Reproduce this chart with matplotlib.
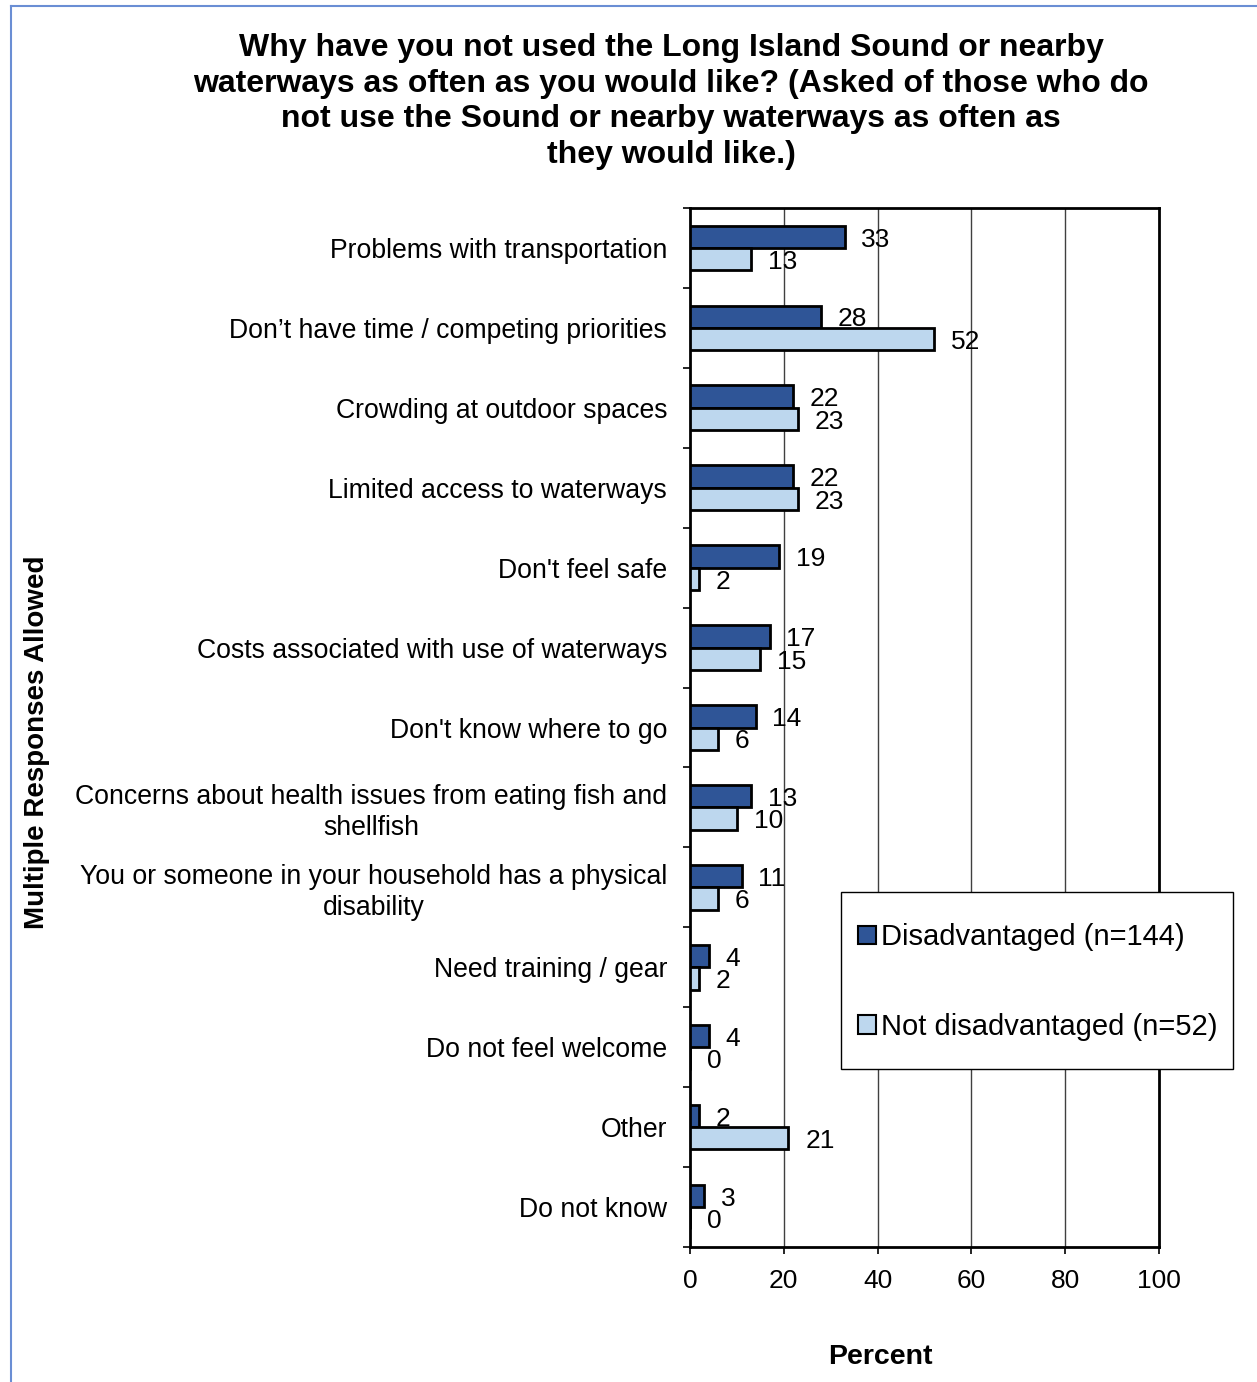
import matplotlib
matplotlib.use("Agg")
import matplotlib.pyplot as plt
from matplotlib.lines import Line2D
from matplotlib.patches import Patch, Rectangle
import numpy as np

plt.rcParams['font.family'] = ['Liberation Sans', 'DejaVu Sans']

categories = [
    "Problems with transportation",
    "Don’t have time / competing priorities",
    "Crowding at outdoor spaces",
    "Limited access to waterways",
    "Don't feel safe",
    "Costs associated with use of waterways",
    "Don't know where to go",
    "Concerns about health issues from eating fish and\nshellfish",
    "You or someone in your household has a physical\ndisability",
    "Need training / gear",
    "Do not feel welcome",
    "Other",
    "Do not know",
]
disadvantaged = [33, 28, 22, 22, 19, 17, 14, 13, 11, 4, 4, 2, 3]
not_disadvantaged = [13, 52, 23, 23, 2, 15, 6, 10, 6, 2, 0, 21, 0]
series_labels = ["Disadvantaged (n=144)", "Not disadvantaged (n=52)"]
x_ticks = [0, 20, 40, 60, 80, 100]

title = ("Why have you not used the Long Island Sound or nearby\n"
         "waterways as often as you would like? (Asked of those who do\n"
         "not use the Sound or nearby waterways as often as\n"
         "they would like.)")

dark = "#2F5597"
light = "#BDD7EE"

W, H = 1257, 1382
fig = plt.figure(figsize=(W / 100, H / 100), dpi=100)
ax = fig.add_axes([690 / W, 1 - 1247 / H, (1159 - 690) / W, (1247 - 208) / H])

n = len(categories)
pos = np.arange(n)
bh = 0.28
ax.barh(pos - bh / 2, disadvantaged, height=bh, color=dark, edgecolor="black", linewidth=2, zorder=3)
ax.barh(pos + bh / 2, not_disadvantaged, height=bh, color=light, edgecolor="black", linewidth=2, zorder=3)

for i in range(n):
    ax.annotate(str(disadvantaged[i]), (disadvantaged[i], pos[i] - bh / 2), xytext=(12, -2),
                textcoords="offset points", ha="left", va="center", fontsize=19, zorder=4)
    ax.annotate(str(not_disadvantaged[i]), (not_disadvantaged[i], pos[i] + bh / 2), xytext=(12, -2),
                textcoords="offset points", ha="left", va="center", fontsize=19, zorder=4)

ax.set_xlim(0, 100)
ax.set_ylim(n - 0.5, -0.5)
ax.set_xticks(x_ticks)
ax.set_xticklabels([str(t) for t in x_ticks], fontsize=19)
ax.tick_params(axis="x", direction="out", length=5, width=1.2, pad=11)
ax.set_yticks(pos)
ax.set_yticklabels(categories, fontsize=19.2)
for lab in ax.get_yticklabels():
    lab.set_multialignment("center")
    lab.set_linespacing(1.25)
ax.tick_params(axis="y", which="major", length=0, pad=16.5)
ax.set_yticks(np.arange(n + 1) - 0.5, minor=True)
ax.tick_params(axis="y", which="minor", direction="out", length=5, width=1.2)

for g in [20, 40, 60, 80]:
    ax.axvline(g, color="#404040", linewidth=1.0, zorder=1)
for s in ax.spines.values():
    s.set_linewidth(2)
    s.set_color("black")

fig.text(880 / W, 1 - 1357 / H, "Percent", ha="center", va="center", fontsize=20.5,
         fontweight="bold")

fig.text(671 / W, 1 - 33 / H, title, ha="center", va="top", fontsize=23,
         fontweight="bold", linespacing=1.24)
fig.text(37 / W, 1 - 742 / H, "Multiple Responses Allowed", rotation=90, ha="center",
         va="center", fontsize=20, fontweight="bold")

# legend box
fig.add_artist(Rectangle((841 / W, 1 - 1069 / H), (1233 - 841) / W, (1069 - 892) / H,
                         transform=fig.transFigure, facecolor="white", edgecolor="black",
                         linewidth=1.0, zorder=4))
handles = [Patch(facecolor=dark, edgecolor="black", linewidth=1.5),
           Patch(facecolor=light, edgecolor="black", linewidth=1.5)]
leg = fig.legend(handles, series_labels, loc="center left",
                 bbox_to_anchor=(858 / W, 1 - 982 / H), fontsize=21,
                 frameon=False, handlelength=0.6, handleheight=0.6, handletextpad=0.2,
                 labelspacing=2.1, borderpad=0, borderaxespad=0)
leg.set_zorder(6)

border = "#6A8ED4"
fig.add_artist(Line2D([11 / W, 11 / W], [0, 1 - 6 / H], color=border, linewidth=1.5))
fig.add_artist(Line2D([11 / W, 1], [1 - 6 / H, 1 - 6 / H], color=border, linewidth=1.5))

fig.savefig("out.png", dpi=100)
